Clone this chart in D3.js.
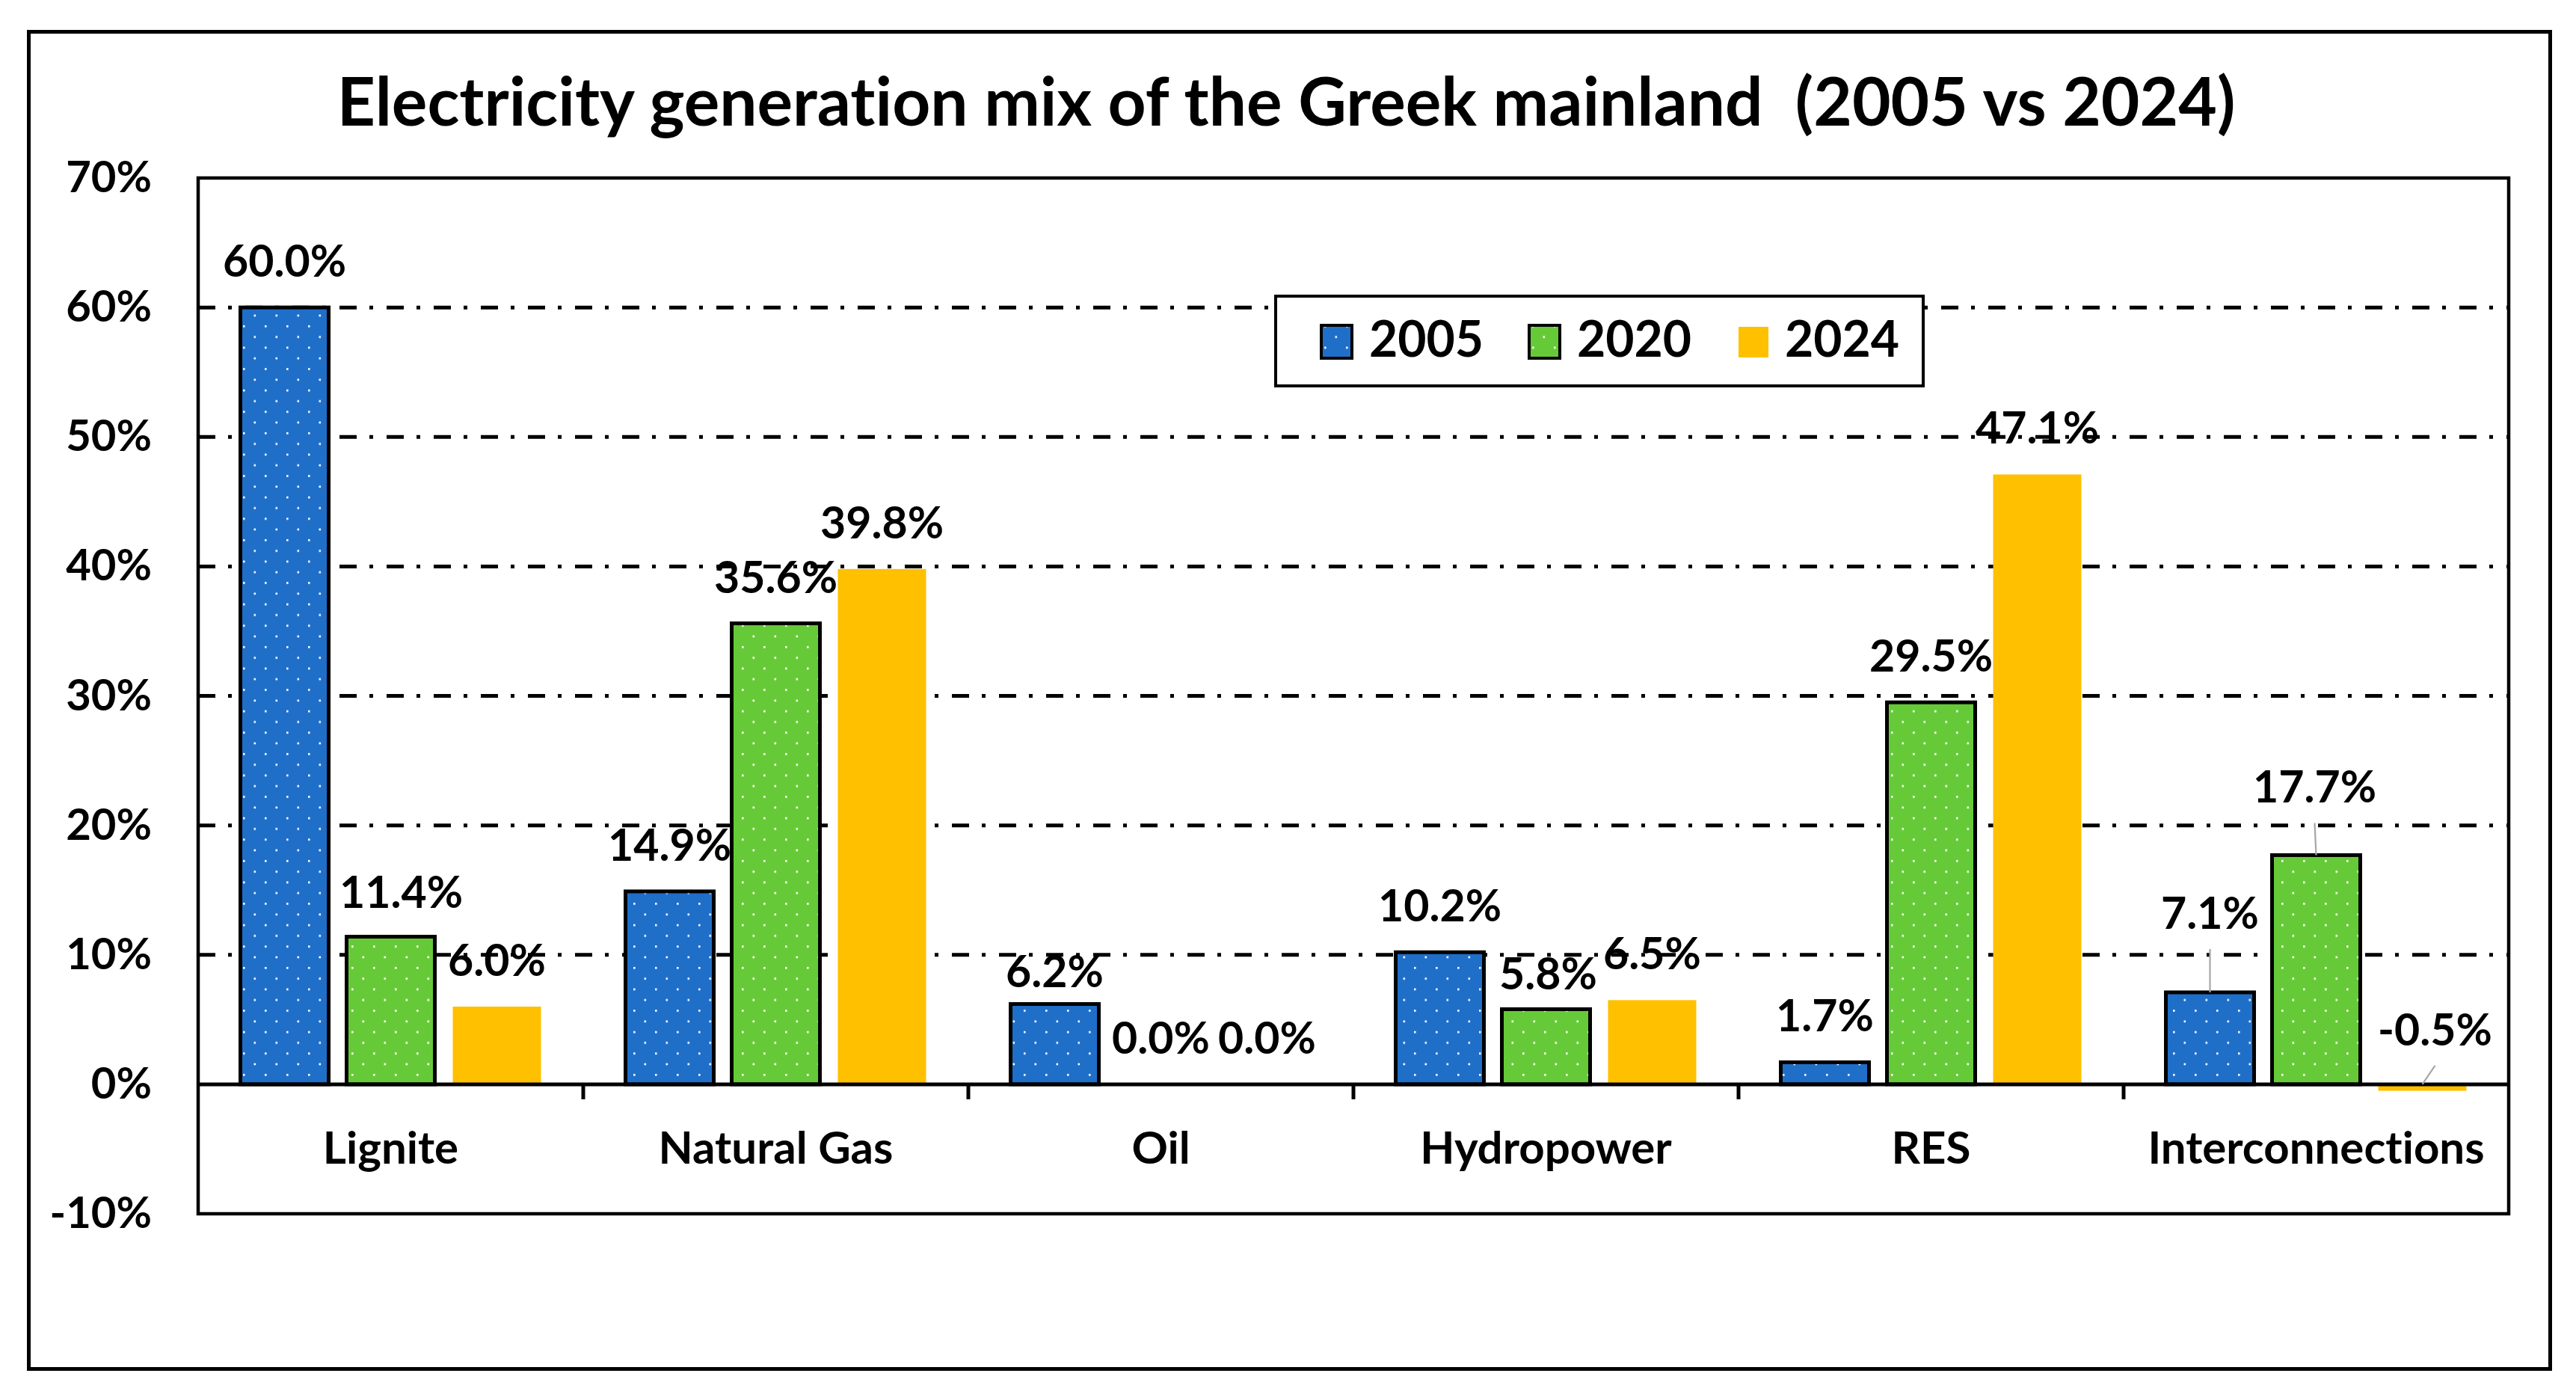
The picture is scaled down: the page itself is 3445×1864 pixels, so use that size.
<!DOCTYPE html>
<html>
<head>
<meta charset="utf-8">
<script src="https://cdn.jsdelivr.net/npm/d3@7"></script>
<style>
  body { margin: 0; background: #fff; }
  text { font-family: Lato, "Open Sans", sans-serif; font-weight: 700; fill: #000; font-variant-ligatures: none; }
</style>
</head>
<body>
<svg></svg>
<script>
const categories = ["Lignite", "Natural Gas", "Oil", "Hydropower", "RES", "Interconnections"]
const years = ["2005", "2020", "2024"]
const share2005 = [60.0, 14.9, 6.2, 10.2, 1.7, 7.1]
const share2020 = [11.4, 35.6, 0.0, 5.8, 29.5, 17.7]
const share2024 = [6.0, 39.8, 0.0, 6.5, 47.1, -0.5]
const yTicks = [-10, 0, 10, 20, 30, 40, 50, 60, 70]
const gridTicks = [10, 20, 30, 40, 50, 60]
const title = "Electricity generation mix of the Greek mainland  (2005 vs 2024)"

const seriesValues = { "2005": share2005, "2020": share2020, "2024": share2024 }
const colors = { "2005": "#1F6FC9", "2020": "#66CA38", "2024": "#FFC000" }
const dotted = { "2005": true, "2020": true, "2024": false }

// labels that were dragged by hand in the original (pixels)
const labelNudge = {
  "Lignite|2020": { dx: 14, dy: 2 },
  "Oil|2005": { dx: 0, dy: 18 },
  "Hydropower|2020": { dx: 3, dy: 15 },
  "Interconnections|2005": { dx: 0, dy: -44, leader: true },
  "Interconnections|2020": { dx: -2, dy: -29, leader: true },
  "Interconnections|2024": { dx: 17, dy: -11, leader: true }
}

const W = 3445, H = 1864
const plot = { left: 265, right: 3355, top: 238, bottom: 1623 }

const svg = d3.select("svg")
  .attr("width", W)
  .attr("height", H)

const defs = svg.append("defs")
years.filter(y => dotted[y]).forEach(y => {
  const p = defs.append("pattern")
    .attr("id", "dots" + y)
    .attr("patternUnits", "userSpaceOnUse")
    .attr("width", 29)
    .attr("height", 28.6)
  p.append("rect").attr("width", 29).attr("height", 28.6).attr("fill", colors[y])
  p.append("rect").attr("x", 6).attr("y", 6).attr("width", 2.6).attr("height", 2.6).attr("fill", "#fff")
  p.append("rect").attr("x", 20.5).attr("y", 20.3).attr("width", 2.6).attr("height", 2.6).attr("fill", "#fff")
})

const fillFor = y => dotted[y] ? `url(#dots${y})` : colors[y]

svg.append("rect")
  .attr("width", W).attr("height", H).attr("fill", "#fff")

// outer chart border
svg.append("rect")
  .attr("x", 38.5).attr("y", 42.5)
  .attr("width", 3372).attr("height", 1788)
  .attr("fill", "none").attr("stroke", "#000").attr("stroke-width", 5)

const scaleY = d3.scaleLinear()
  .domain([-10, 70])
  .range([plot.bottom, plot.top])

const scaleX = d3.scaleBand()
  .domain(categories)
  .range([plot.left, plot.right])

const scaleS = d3.scaleBand()
  .domain(years)
  .range([0, scaleX.bandwidth()])
  .paddingInner(0.169)
  .paddingOuter(0.398)

// gridlines
svg.append("g")
  .attr("class", "grid")
  .selectAll("line")
  .data(gridTicks)
  .enter()
  .append("line")
  .attr("x1", plot.left)
  .attr("x2", plot.right)
  .attr("y1", d => scaleY(d))
  .attr("y2", d => scaleY(d))
  .attr("stroke", "#000")
  .attr("stroke-width", 5)
  .attr("stroke-dasharray", "23 17 5 18")

// y axis labels
const axisY = d3.axisLeft(scaleY)
  .tickValues(yTicks)
  .tickFormat(d => d + "%")
  .tickSize(0)
  .tickPadding(62)

svg.append("g")
  .attr("class", "y-axis")
  .attr("transform", `translate(${plot.left}, 0)`)
  .call(axisY)
  .call(g => g.select(".domain").remove())
  .selectAll("text")
  .style("font-size", "58px")
  .style("font-family", "Lato, 'Open Sans', sans-serif")
  .style("font-weight", 700)

// bars
const rows = []
categories.forEach((c, i) => {
  years.forEach(y => {
    rows.push({ category: c, year: y, value: seriesValues[y][i] })
  })
})

const bars = svg.append("g").attr("class", "bars")

bars.selectAll("rect")
  .data(rows)
  .enter()
  .append("rect")
  .attr("x", d => scaleX(d.category) + scaleS(d.year))
  .attr("width", scaleS.bandwidth())
  .attr("y", d => scaleY(Math.max(d.value, 0)))
  .attr("height", d => Math.abs(scaleY(d.value) - scaleY(0)))
  .attr("fill", d => fillFor(d.year))
  .attr("stroke", d => dotted[d.year] ? "#000" : "none")
  .attr("stroke-width", 5)

// zero line
svg.append("line")
  .attr("x1", plot.left).attr("x2", plot.right)
  .attr("y1", scaleY(0)).attr("y2", scaleY(0))
  .attr("stroke", "#000").attr("stroke-width", 5)

// category separators
svg.append("g")
  .selectAll("line")
  .data(categories.slice(1))
  .enter()
  .append("line")
  .attr("x1", d => scaleX(d))
  .attr("x2", d => scaleX(d))
  .attr("y1", scaleY(0))
  .attr("y2", scaleY(0) + 20)
  .attr("stroke", "#000")
  .attr("stroke-width", 5)

// category labels
const axisX = d3.axisBottom(scaleX)
  .tickSize(0)
  .tickPadding(64)

svg.append("g")
  .attr("class", "x-axis")
  .attr("transform", `translate(0, ${scaleY(0)})`)
  .call(axisX)
  .call(g => g.select(".domain").remove())
  .selectAll("text")
  .style("font-size", "60px")
  .style("font-family", "Lato, 'Open Sans', sans-serif")
  .style("font-weight", 700)

// data labels
const labelPos = d => {
  const n = labelNudge[d.category + "|" + d.year] || { dx: 0, dy: 0 }
  const bx = scaleX(d.category) + scaleS(d.year) + scaleS.bandwidth() / 2
  const by = scaleY(Math.max(d.value, 0))
  return { bx, by, x: bx + n.dx, y: by - 41 + n.dy, leader: n.leader }
}

svg.append("g")
  .attr("class", "leaders")
  .selectAll("line")
  .data(rows.filter(d => labelPos(d).leader))
  .enter()
  .append("line")
  .attr("x1", d => labelPos(d).bx)
  .attr("y1", d => labelPos(d).by)
  .attr("x2", d => labelPos(d).x)
  .attr("y2", d => labelPos(d).y + 27)
  .attr("stroke", "#A6A6A6")
  .attr("stroke-width", 2.2)

svg.append("g")
  .attr("class", "labels")
  .selectAll("text")
  .data(rows)
  .enter()
  .append("text")
  .attr("x", d => labelPos(d).x)
  .attr("y", d => labelPos(d).y)
  .attr("text-anchor", "middle")
  .style("font-size", "59px")
  .text(d => d.value.toFixed(1) + "%")

// plot frame
svg.append("rect")
  .attr("x", plot.left).attr("y", plot.top)
  .attr("width", plot.right - plot.left)
  .attr("height", plot.bottom - plot.top)
  .attr("fill", "none").attr("stroke", "#000").attr("stroke-width", 4.5)

// legend
const legend = svg.append("g").attr("class", "legend")

legend.append("rect")
  .attr("x", 1706).attr("y", 396)
  .attr("width", 866).attr("height", 120)
  .attr("fill", "#fff").attr("stroke", "#000").attr("stroke-width", 4)

const items = legend.selectAll("g.item")
  .data(years)
  .enter()
  .append("g")
  .attr("class", "item")
  .attr("transform", (d, i) => `translate(${1765 + i * 278}, 0)`)

items.append("rect")
  .attr("x", d => dotted[d] ? 2 : 4)
  .attr("y", d => dotted[d] ? 435 : 437)
  .attr("width", d => dotted[d] ? 41 : 40)
  .attr("height", d => dotted[d] ? 44 : 41)
  .attr("fill", d => fillFor(d))
  .attr("stroke", d => dotted[d] ? "#000" : "none")
  .attr("stroke-width", 4)

items.append("text")
  .attr("x", 66)
  .attr("y", 477)
  .style("font-size", "66px")
  .text(d => d)

// title, fitted to the original width
const titleText = svg.append("text")
  .attr("x", 1720)
  .attr("y", 168)
  .attr("text-anchor", "middle")
  .style("white-space", "pre")
  .style("font-size", "80px")
  .text(title)

const measured = titleText.node().getComputedTextLength()
titleText.style("font-size", (80 * 2540 / measured).toFixed(1) + "px")
</script>
</body>
</html>
